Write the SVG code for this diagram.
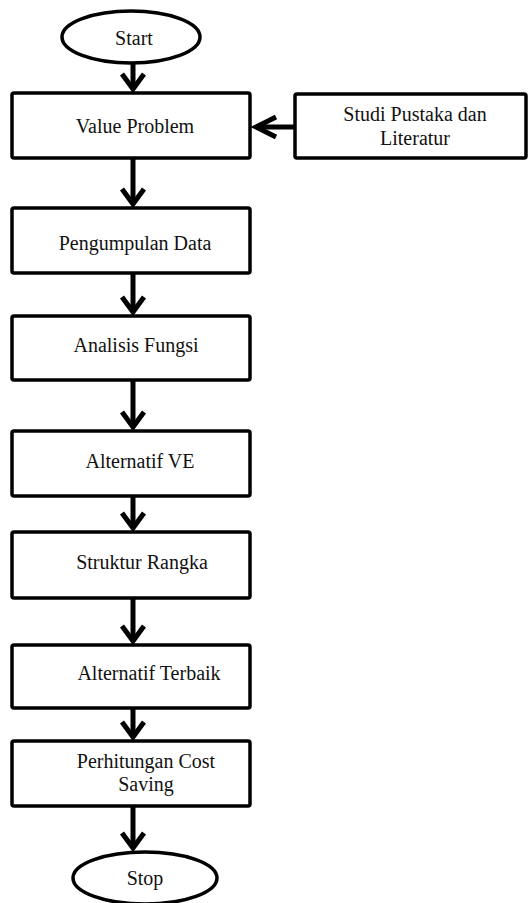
<svg xmlns="http://www.w3.org/2000/svg" width="528" height="903" viewBox="0 0 528 903">
<style>
.box{fill:#fff;stroke:#000;stroke-width:3.5}
.t{font-family:"Liberation Serif","Times New Roman",serif;font-size:20px;fill:#111;text-anchor:middle}
.ln{fill:none;stroke:#000;stroke-width:5}
.hd{fill:none;stroke:#000;stroke-width:5;stroke-linejoin:miter}
</style>
<rect width="528" height="903" fill="#fff"/>
<g id="connectors">
<path class="ln" d="M133,64 V89"/><polyline class="hd" points="122,74 133,89 144,74"/>
<path class="ln" d="M133,158 V204"/><polyline class="hd" points="122,189 133,204 144,189"/>
<path class="ln" d="M133,273 V312"/><polyline class="hd" points="122,297 133,312 144,297"/>
<path class="ln" d="M133,380 V427"/><polyline class="hd" points="122,412 133,427 144,412"/>
<path class="ln" d="M133,496 V528"/><polyline class="hd" points="122,513 133,528 144,513"/>
<path class="ln" d="M133,598 V641"/><polyline class="hd" points="122,626 133,641 144,626"/>
<path class="ln" d="M133,708 V737"/><polyline class="hd" points="122,722 133,737 144,722"/>
<path class="ln" d="M133,806 V848"/><polyline class="hd" points="122,833 133,848 144,833"/>
<path class="ln" d="M295,127 H256"/><polyline class="hd" points="276,117 256,127 276,137"/>
</g>
<g id="start"><ellipse class="box" cx="131" cy="37" rx="69" ry="26"/><text class="t" x="134" y="45">Start</text></g>
<g id="value-problem"><rect class="box" x="12" y="93" width="238" height="65" rx="2"/><text class="t" x="135" y="133">Value Problem</text></g>
<g id="studi-pustaka"><rect class="box" x="295" y="94" width="231" height="64" rx="2"/><text class="t" x="415" y="121">Studi Pustaka dan</text><text class="t" x="415" y="145">Literatur</text></g>
<g id="pengumpulan-data"><rect class="box" x="12" y="208" width="238" height="65" rx="2"/><text class="t" x="135" y="250">Pengumpulan Data</text></g>
<g id="analisis-fungsi"><rect class="box" x="12" y="316" width="238" height="64" rx="2"/><text class="t" x="136" y="352">Analisis Fungsi</text></g>
<g id="alternatif-ve"><rect class="box" x="12" y="431" width="238" height="65" rx="2"/><text class="t" x="140" y="468">Alternatif VE</text></g>
<g id="struktur-rangka"><rect class="box" x="12" y="532" width="238" height="66" rx="2"/><text class="t" x="142" y="569">Struktur Rangka</text></g>
<g id="alternatif-terbaik"><rect class="box" x="12" y="645" width="238" height="63" rx="2"/><text class="t" x="149" y="680">Alternatif Terbaik</text></g>
<g id="perhitungan"><rect class="box" x="12" y="741" width="238" height="65" rx="2"/><text class="t" x="146" y="768">Perhitungan Cost</text><text class="t" x="146" y="791">Saving</text></g>
<g id="stop"><ellipse class="box" cx="145" cy="878" rx="72" ry="26"/><text class="t" x="145" y="885">Stop</text></g>
</svg>
